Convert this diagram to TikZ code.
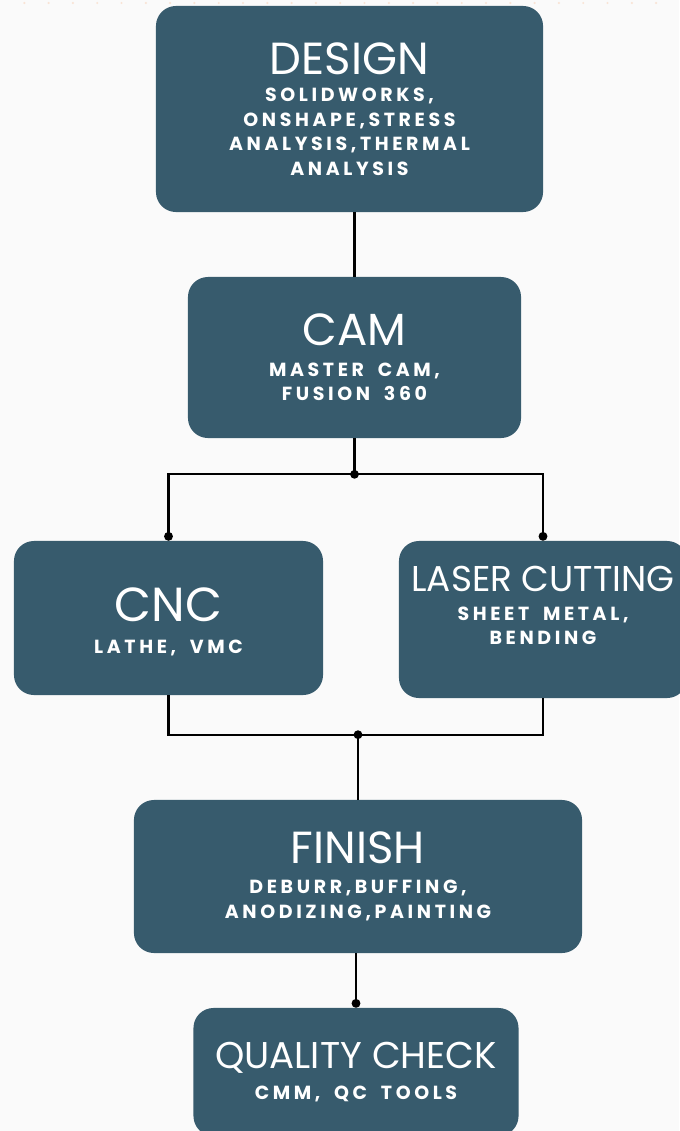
\documentclass[tikz,border=0pt]{standalone}
\usepackage{fontspec}
\setmainfont{Poppins}
\newfontfamily\subfam[LetterSpace=19, WordSpace=1.8]{Poppins}
\usetikzlibrary{arrows.meta,positioning}

\definecolor{stageblue}{HTML}{375B6D}
\definecolor{pagegray}{HTML}{FAFAFA}
\definecolor{dotpeach}{HTML}{F9E4D6}

\newcommand\stagesub{\subfam\bfseries\fontsize{13.5}{17.5}\selectfont}
\newcommand\stagettl[2][32]{{\normalfont\fontsize{#1}{36}\selectfont #2}}

\begin{document}
\begin{tikzpicture}[x=0.025cm, y=-0.025cm,
		stage/.style = {fill=stageblue, rounded corners=0.5cm, text=white, align=center, inner sep=0pt, font=\stagesub},
		link/.style  = {draw=black, line width=1.6pt},
		>={Circle[length=6.2pt]}]
		
		% page and the faint dotted rim on top
		\fill[pagegray] (0,0) rectangle (679,1131);
		\useasboundingbox (0,0) rectangle (679,1131);
		\foreach \i in {1,...,27}
		\fill[dotpeach] (24.3*\i,3) circle (0.03cm);
		
		% Stages, top to bottom
		\node[stage, minimum width=9.675cm, minimum height=5.15cm] (design) at (349.5,109)
		{\stagettl{DESIGN}\\[2pt] SOLIDWORKS,\\ ONSHAPE,STRESS\\ ANALYSIS,THERMAL\\ ANALYSIS};
		
		\node[stage, minimum width=8.325cm, minimum height=4.025cm] (cam) at (354.5,357.5)
		{\stagettl{CAM}\\[4pt] MASTER CAM,\\ FUSION 360};
		
		% the two machining branches
		\node[stage, minimum width=7.725cm, minimum height=3.85cm] (cnc) at (168.5,618) {};
		\node[text=white, align=center, inner sep=0pt, font=\stagesub, yshift=-0.1cm] (cnctxt) at (cnc.center)
		{\stagettl[34]{CNC}\\[5pt] LATHE, VMC};
		
		\node[stage, minimum width=7.2cm, minimum height=3.925cm] (laser) at (543,619.5) {};
		\node[text=white, align=center, inner sep=0pt, font=\stagesub, yshift=0.35cm] (lasertxt) at (laser.center)
		{\stagettl[25.5]{LASER CUTTING}\\[3pt] SHEET METAL,\\ BENDING};
		
		\node[stage, minimum width=11.2cm, minimum height=3.825cm] (finish) at (358,876.5)
		{\stagettl{FINISH}\\[4pt] DEBURR,BUFFING,\\ ANODIZING,PAINTING};
		
		\node[stage, minimum width=8.125cm, minimum height=3.2cm] (qc) at (356,1072)
		{\stagettl[26.5]{QUALITY CHECK}\\[5pt] CMM, QC TOOLS};
		
		% Junction points
		\coordinate[below=0.9cm of cam.south] (split);
		\coordinate[above=1.625cm of finish.north] (merge);
		
		% Lines between the stages
		\draw[link] (cam.north |- design.south) -- (cam.north);
		
		\draw[link] (cam.south) -- (split);
		\foreach \dest in {cnc,laser}
		\draw[link,->] (split) -| (\dest.north);
		\fill (split) circle (0.11cm);
		
		\draw[link] (cnc.south) |- (merge) -| (laser.south);
		\draw[link] (merge) -- (finish.north);
		\fill (merge) circle (0.11cm);
		
		\draw[link,->] (qc.north |- finish.south) -- (qc.north);
		
	\end{tikzpicture}
\end{document}
